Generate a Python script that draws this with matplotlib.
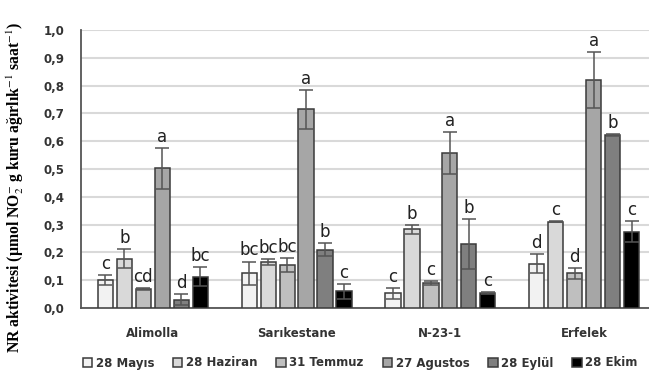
import numpy as np
import matplotlib.pyplot as plt

# data
cultivars = ['Alimolla', 'Sarıkestane', 'N-23-1', 'Erfelek']
dates = ['28 Mayıs', '28 Haziran', '31 Temmuz', '27 Agustos', '28 Eylül', '28 Ekim']

# rows = dates, cols = cultivars
means = [
    [0.100, 0.125, 0.053, 0.160],
    [0.178, 0.165, 0.283, 0.310],
    [0.068, 0.155, 0.090, 0.125],
    [0.503, 0.715, 0.558, 0.820],
    [0.030, 0.210, 0.230, 0.622],
    [0.113, 0.060, 0.053, 0.275],
]
errors = [
    [0.018, 0.042, 0.020, 0.035],
    [0.035, 0.012, 0.015, 0.002],
    [0.004, 0.025, 0.008, 0.020],
    [0.073, 0.070, 0.075, 0.100],
    [0.020, 0.024, 0.090, 0.003],
    [0.035, 0.026, 0.004, 0.038],
]
letters = [
    ['c', 'bc', 'c', 'd'],
    ['b', 'bc', 'b', 'c'],
    ['cd', 'bc', 'c', 'd'],
    ['a', 'a', 'a', 'a'],
    ['d', 'b', 'b', 'b'],
    ['bc', 'c', 'c', 'c'],
]
colors = ['#f2f2f2', '#d9d9d9', '#bfbfbf', '#a6a6a6', '#7f7f7f', '#000000']

plt.rcParams['mathtext.fontset'] = 'stix'

fig = plt.figure(figsize=(6.49, 3.75), dpi=100)
ax = fig.add_axes([0.1248, 0.1787, 0.886, 0.741])

x = np.arange(len(cultivars))
pitch = 0.132
width = 0.106
for i, d in enumerate(dates):
    pos = x + (i - 2.5) * pitch
    ax.bar(pos, means[i], width, color=colors[i], edgecolor='#3a3a3a',
           linewidth=1.1, label=d, zorder=3)
    ax.errorbar(pos, means[i], yerr=errors[i], fmt='none', ecolor='#555555',
                elinewidth=1.1, capsize=5, capthick=1.1, zorder=4)
    for j in range(len(cultivars)):
        ax.annotate(letters[i][j], (pos[j], means[i][j] + errors[i][j]),
                    xytext=(0, 1.5), textcoords='offset points',
                    ha='center', va='bottom', fontsize=12, color='#222222',
                    zorder=5)

ax.set_xlim(-0.5, 3.5)
ax.set_ylim(0, 1.0)
ax.set_yticks(np.arange(0, 1.01, 0.1))
ax.set_yticklabels([f'{v:.1f}'.replace('.', ',') for v in np.arange(0, 1.01, 0.1)],
                   fontsize=8.5, fontweight='bold', color='#333333')
ax.set_xticks(x)
ax.set_xticklabels(cultivars, fontsize=8.5, fontweight='bold', color='#333333')
ax.tick_params(axis='y', length=0, pad=12)
ax.tick_params(axis='x', length=0, pad=14)
ax.yaxis.grid(True, color='#d9d9d9', linewidth=1.5, zorder=0)
ax.set_axisbelow(True)
for s in ['top', 'right']:
    ax.spines[s].set_visible(False)
ax.spines['left'].set_color('#555555')
ax.spines['bottom'].set_color('#555555')
ax.spines['left'].set_linewidth(1.3)
ax.spines['bottom'].set_linewidth(1.3)

fig.text(0.024, 0.5,
         r'NR aktivitesi (µmol NO$_2^{-}$ g kuru ağırlık$^{-1}$ saat$^{-1}$)',
         rotation=90, ha='center', va='center', fontsize=11.3,
         family='Liberation Serif', fontweight='bold')

leg = fig.legend(loc='center', bbox_to_anchor=(0.555, 0.032), ncol=6,
                 frameon=False, handlelength=0.8, handleheight=0.8,
                 handletextpad=0.3, columnspacing=1.6,
                 prop={'size': 8.5, 'weight': 'bold'})
for t in leg.get_texts():
    t.set_color('#333333')

fig.savefig('out.png', dpi=100)
